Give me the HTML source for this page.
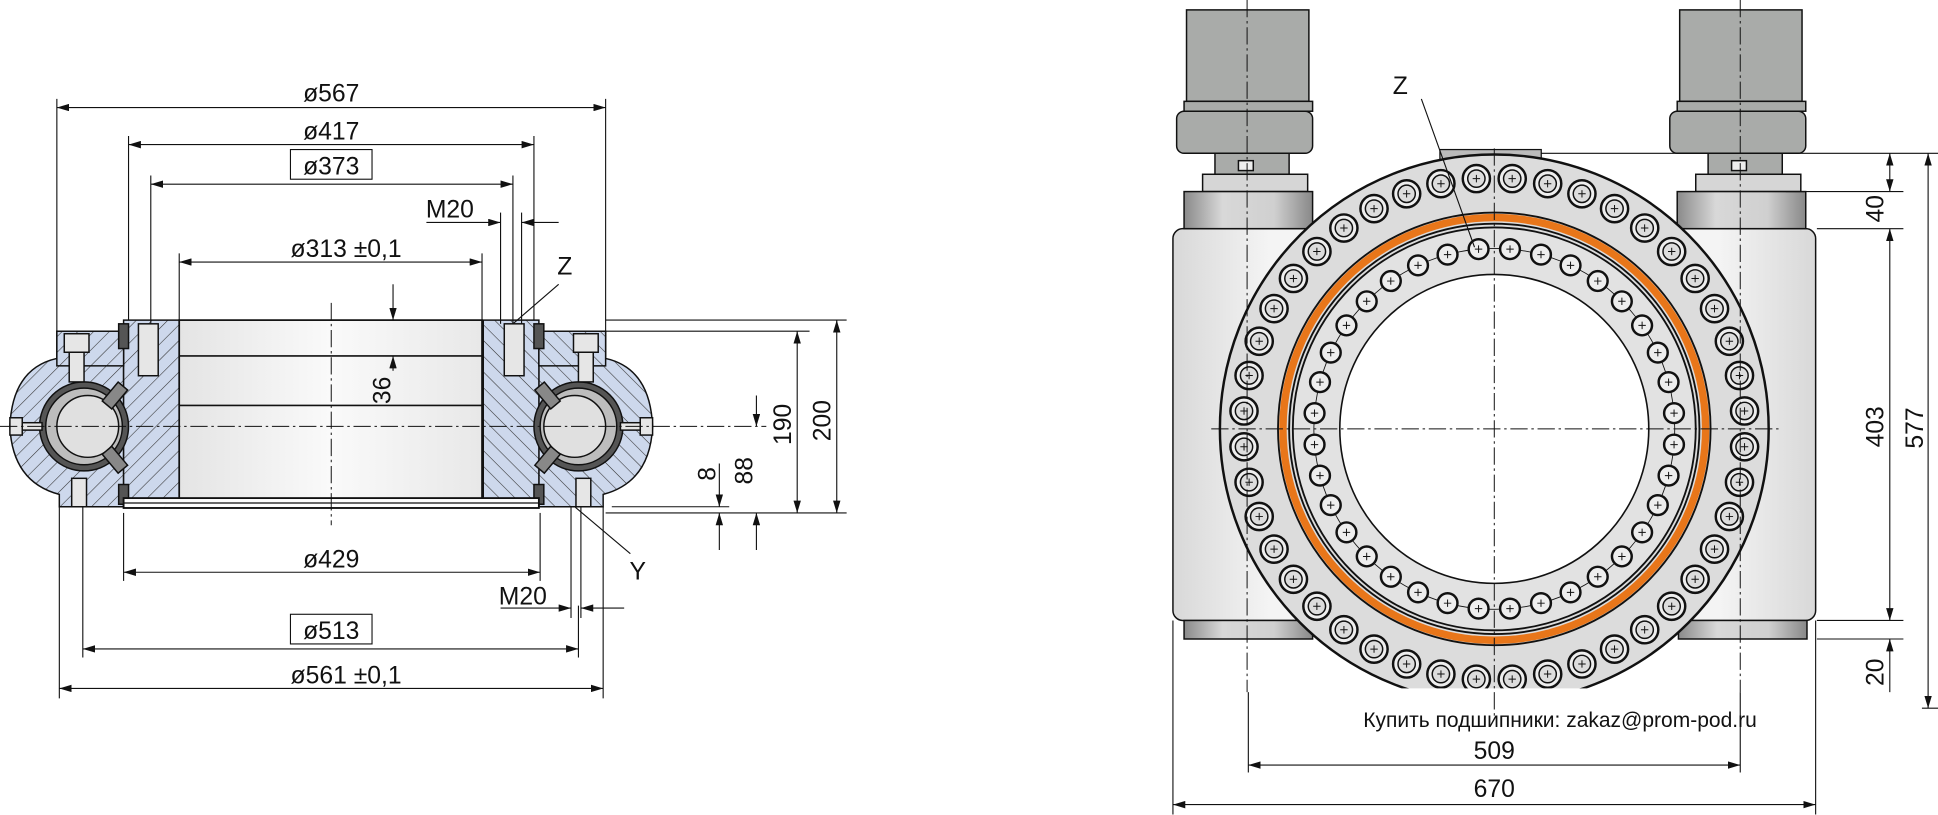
<!DOCTYPE html>
<html><head><meta charset="utf-8"><style>
html,body{margin:0;padding:0;background:#fff;}
svg{display:block;}
text{font-family:"Liberation Sans",sans-serif;font-size:20px;fill:#111;}
</style></head><body>
<svg id="s" width="1938" height="815" viewBox="0 0 1568 659.4" xmlns="http://www.w3.org/2000/svg">
<defs>
<pattern id="h" width="9" height="9" patternUnits="userSpaceOnUse" patternTransform="rotate(45)">
<rect width="9" height="9" fill="#cdd8ec"/><line x1="0" y1="0" x2="0" y2="9" stroke="#333" stroke-width="0.9"/></pattern>
<linearGradient id="bore" x1="0" x2="1"><stop offset="0" stop-color="#e4e4e4"/><stop offset="0.5" stop-color="#fafafa"/><stop offset="1" stop-color="#e8e8e8"/></linearGradient>
<linearGradient id="cyl" x1="0" x2="1"><stop offset="0" stop-color="#8a8a8a"/><stop offset="0.3" stop-color="#d8d8d8"/><stop offset="0.7" stop-color="#d0d0d0"/><stop offset="1" stop-color="#888"/></linearGradient>
<linearGradient id="hous" x1="0" x2="1"><stop offset="0" stop-color="#d8d8d8"/><stop offset="0.15" stop-color="#f4f4f4"/><stop offset="0.85" stop-color="#f4f4f4"/><stop offset="1" stop-color="#d8d8d8"/></linearGradient>
<marker id="a" viewBox="0 0 10 6" refX="10" refY="3" markerWidth="10" markerHeight="6" orient="auto-start-reverse" markerUnits="userSpaceOnUse"><path d="M0,0 L10,3 L0,6Z" fill="#111"/></marker>
<clipPath id="ringclip"><rect x="900" y="0" width="600" height="557"/></clipPath>
</defs>

<!-- LEFT CROSS SECTION -->
<g id="half" stroke="#111" stroke-width="1.2">
 <path d="M46,290 L46,268 H100 V410 H48 V400 Q10,390 8,345 Q10,298 46,290Z" fill="url(#h)"/>
 <rect x="100" y="259" width="45" height="151" fill="url(#h)"/>
 <rect x="46" y="268" width="54" height="28" fill="url(#h)"/>
 <circle cx="68" cy="345" r="36" fill="#555"/>
 <circle cx="68" cy="345" r="31" fill="#bdbdbd"/>
 <circle cx="71" cy="345" r="25" fill="#e0e0e0"/>
 <rect x="52" y="270" width="20" height="15" fill="#e6e6e6"/>
 <rect x="56" y="285" width="12" height="24" fill="#e6e6e6"/>
 <rect x="112" y="262" width="16" height="42" fill="#e6e6e6"/>
 <rect x="58" y="387" width="12" height="23" fill="#e6e6e6"/>
 <rect x="8" y="338" width="10" height="14" fill="#e6e6e6"/>
 <rect x="18" y="342" width="16" height="6" fill="#e6e6e6"/>
 <rect x="88" y="310" width="10" height="20" fill="#888" transform="rotate(40 93 320)"/>
 <rect x="88" y="362" width="10" height="20" fill="#888" transform="rotate(-40 93 372)"/>
 <rect x="96" y="262" width="8" height="20" fill="#555"/>
 <rect x="96" y="392" width="8" height="16" fill="#555"/>
</g>
<use href="#half" transform="translate(536,0) scale(-1,1)"/>
<rect x="145" y="259" width="245" height="146" fill="url(#bore)" stroke="#111" stroke-width="1.4"/>
<line x1="145" y1="288" x2="390" y2="288" stroke="#111" stroke-width="1.3"/>
<line x1="145" y1="328" x2="390" y2="328" stroke="#111" stroke-width="1.3"/>
<rect x="100" y="403" width="336" height="8" fill="#fff" stroke="#111" stroke-width="1.5"/>
<line x1="100" y1="407" x2="436" y2="407" stroke="#111"/>
<g stroke="#111" stroke-width="0.8" stroke-dasharray="14,3,2,3">
<line x1="268" y1="245" x2="268" y2="425"/>
<line x1="0" y1="345" x2="620" y2="345"/>
</g>
<g stroke="#111" stroke-width="0.9" fill="none">
<line x1="46" y1="80" x2="46" y2="268"/><line x1="490" y1="80" x2="490" y2="268"/>
<line x1="46" y1="87" x2="490" y2="87" marker-start="url(#a)" marker-end="url(#a)"/>
<line x1="104" y1="110" x2="104" y2="259"/><line x1="432" y1="110" x2="432" y2="259"/>
<line x1="104" y1="117" x2="432" y2="117" marker-start="url(#a)" marker-end="url(#a)"/>
<line x1="122" y1="142" x2="122" y2="262"/><line x1="415" y1="142" x2="415" y2="262"/>
<line x1="122" y1="149" x2="415" y2="149" marker-start="url(#a)" marker-end="url(#a)"/>
<line x1="145" y1="205" x2="145" y2="259"/><line x1="390" y1="205" x2="390" y2="259"/>
<line x1="145" y1="212" x2="390" y2="212" marker-start="url(#a)" marker-end="url(#a)"/>
<line x1="405" y1="172" x2="405" y2="262"/><line x1="422" y1="172" x2="422" y2="262"/>
<line x1="345" y1="180" x2="405" y2="180" marker-end="url(#a)"/><line x1="452" y1="180" x2="422" y2="180" marker-end="url(#a)"/>
<line x1="318" y1="230" x2="318" y2="259" marker-end="url(#a)"/><line x1="318" y1="300" x2="318" y2="288" marker-end="url(#a)"/>
<line x1="452" y1="230" x2="415" y2="262"/>
<line x1="490" y1="259" x2="685" y2="259"/><line x1="490" y1="268" x2="655" y2="268"/>
<line x1="490" y1="415" x2="685" y2="415"/><line x1="495" y1="410" x2="590" y2="410"/>
<line x1="677" y1="259" x2="677" y2="415" marker-start="url(#a)" marker-end="url(#a)"/>
<line x1="645" y1="268" x2="645" y2="415" marker-start="url(#a)" marker-end="url(#a)"/>
<line x1="612" y1="320" x2="612" y2="345" marker-end="url(#a)"/><line x1="612" y1="445" x2="612" y2="415" marker-end="url(#a)"/>
<line x1="582" y1="375" x2="582" y2="410" marker-end="url(#a)"/><line x1="582" y1="445" x2="582" y2="415" marker-end="url(#a)"/>
<line x1="100" y1="415" x2="100" y2="470"/><line x1="437" y1="415" x2="437" y2="470"/>
<line x1="100" y1="463" x2="437" y2="463" marker-start="url(#a)" marker-end="url(#a)"/>
<line x1="462" y1="410" x2="462" y2="500"/><line x1="470" y1="410" x2="470" y2="500"/>
<line x1="405" y1="492" x2="462" y2="492" marker-end="url(#a)"/><line x1="505" y1="492" x2="470" y2="492" marker-end="url(#a)"/>
<line x1="465" y1="410" x2="510" y2="448"/>
<line x1="67" y1="410" x2="67" y2="532"/><line x1="468" y1="490" x2="468" y2="532"/>
<line x1="67" y1="525" x2="468" y2="525" marker-start="url(#a)" marker-end="url(#a)"/>
<line x1="48" y1="410" x2="48" y2="565"/><line x1="488" y1="410" x2="488" y2="565"/>
<line x1="48" y1="557" x2="488" y2="557" marker-start="url(#a)" marker-end="url(#a)"/>
<rect x="235" y="121" width="66" height="24"/><rect x="235" y="497" width="66" height="24"/>
</g>
<text x="268" y="82" text-anchor="middle">ø567</text>
<text x="268" y="113" text-anchor="middle">ø417</text>
<text x="268" y="141" text-anchor="middle">ø373</text>
<text x="364" y="176" text-anchor="middle">M20</text>
<text x="280" y="208" text-anchor="middle">ø313  ±0,1</text>
<text x="457" y="222" text-anchor="middle">Z</text>
<text x="0" y="0" transform="translate(316,327) rotate(-90)">36</text>
<text x="0" y="0" transform="translate(672,357) rotate(-90)">200</text>
<text x="0" y="0" transform="translate(640,360) rotate(-90)">190</text>
<text x="0" y="0" transform="translate(609,392) rotate(-90)">88</text>
<text x="0" y="0" transform="translate(579,389) rotate(-90)">8</text>
<text x="268" y="459" text-anchor="middle">ø429</text>
<text x="423" y="489" text-anchor="middle">M20</text>
<text x="516" y="469" text-anchor="middle">Y</text>
<text x="268" y="517" text-anchor="middle">ø513</text>
<text x="280" y="553" text-anchor="middle">ø561   ±0,1</text>

<!-- RIGHT VIEW -->
<g stroke="#111" stroke-width="1.2">
 <rect x="949" y="185" width="520" height="317" rx="8" fill="url(#hous)"/>
 <rect x="958" y="502" width="104" height="15" fill="url(#cyl)"/>
 <rect x="1358" y="502" width="104" height="15" fill="url(#cyl)"/>
 <g id="motor">
  <rect x="960" y="8" width="99" height="74" fill="#a9aba9"/>
  <rect x="958" y="82" width="104" height="8" fill="#a9aba9"/>
  <rect x="952" y="90" width="110" height="34" rx="6" fill="#a9aba9"/>
  <rect x="983" y="124" width="60" height="17" fill="#a9aba9"/>
  <rect x="1002" y="130" width="12" height="8" fill="#eee"/>
  <rect x="973" y="141" width="85" height="14" fill="#d6d6d6"/>
  <rect x="958" y="155" width="104" height="30" fill="url(#cyl)"/>
 </g>
 <use href="#motor" transform="translate(399,0)"/>
</g>
<g clip-path="url(#ringclip)">
 <rect x="1165" y="121" width="82" height="8" fill="#bbb" stroke="#111"/>
 <circle cx="1209" cy="347" r="222" fill="#dcdcdc" stroke="#111" stroke-width="2"/>
 <circle cx="1209" cy="347" r="171" fill="none" stroke="#e8761a" stroke-width="6"/>
 <circle cx="1209" cy="347" r="166" fill="none" stroke="#111" stroke-width="1.5"/>
 <circle cx="1209" cy="347" r="175" fill="none" stroke="#111" stroke-width="1.5"/>
 <circle cx="1209" cy="347" r="163" fill="#e2e2e2" stroke="#111" stroke-width="1.5"/>
 <circle cx="1209" cy="347" r="146" fill="none" stroke="#111" stroke-width="0.7"/>
 <circle cx="1209" cy="347" r="125" fill="#fff" stroke="#111" stroke-width="1.3"/>
 <g id="bolts"></g>
</g>
<g stroke="#111" stroke-width="0.8" stroke-dasharray="14,3,2,3">
<line x1="1009" y1="0" x2="1009" y2="560"/><line x1="1408" y1="0" x2="1408" y2="560"/>
<line x1="1209" y1="120" x2="1209" y2="580"/><line x1="980" y1="347" x2="1440" y2="347"/>
</g>
<g stroke="#111" stroke-width="0.9" fill="none">
<line x1="1150" y1="80" x2="1193" y2="200"/>
<line x1="1247" y1="124" x2="1568" y2="124"/><line x1="1445" y1="155" x2="1540" y2="155"/>
<line x1="1470" y1="185" x2="1540" y2="185"/><line x1="1470" y1="502" x2="1540" y2="502"/>
<line x1="1470" y1="517" x2="1540" y2="517"/><line x1="1555" y1="573" x2="1568" y2="573"/>
<line x1="1529" y1="124" x2="1529" y2="155" marker-start="url(#a)" marker-end="url(#a)"/>
<line x1="1529" y1="185" x2="1529" y2="502" marker-start="url(#a)" marker-end="url(#a)"/>
<line x1="1529" y1="560" x2="1529" y2="517" marker-end="url(#a)"/>
<line x1="1560" y1="124" x2="1560" y2="573" marker-start="url(#a)" marker-end="url(#a)"/>
<line x1="1010" y1="560" x2="1010" y2="625"/><line x1="1408" y1="560" x2="1408" y2="625"/>
<line x1="1010" y1="619" x2="1408" y2="619" marker-start="url(#a)" marker-end="url(#a)"/>
<line x1="949" y1="502" x2="949" y2="659"/><line x1="1469" y1="502" x2="1469" y2="659"/>
<line x1="949" y1="651" x2="1469" y2="651" marker-start="url(#a)" marker-end="url(#a)"/>
</g>
<text x="1133" y="76" text-anchor="middle">Z</text>
<text x="0" y="0" transform="translate(1524,180) rotate(-90)">40</text>
<text x="0" y="0" transform="translate(1524,362) rotate(-90)">403</text>
<text x="0" y="0" transform="translate(1556,363) rotate(-90)">577</text>
<text x="0" y="0" transform="translate(1524,555) rotate(-90)">20</text>
<text x="1103" y="588" style="font-size:17px">Купить подшипники: zakaz@prom-pod.ru</text>
<text x="1209" y="614" text-anchor="middle">509</text>
<text x="1209" y="645" text-anchor="middle">670</text>
</svg>
<script>
var g=document.getElementById('bolts'),h='';
function ring(n,r,r1,r2,off){for(var i=0;i<n;i++){var a=(i+off)/n*2*Math.PI,x=1209+r*Math.cos(a),y=347+r*Math.sin(a);
h+='<circle cx="'+x.toFixed(1)+'" cy="'+y.toFixed(1)+'" r="'+r1+'" fill="#eee" stroke="#111" stroke-width="2"/>';
if(r2)h+='<circle cx="'+x.toFixed(1)+'" cy="'+y.toFixed(1)+'" r="'+r2+'" fill="#ddd" stroke="#111" stroke-width="1.2"/>';
h+='<path d="M'+(x-3)+','+y+'h6M'+x+','+(y-3)+'v6" stroke="#111" stroke-width="0.8"/>';}}
ring(44,203,11,7,0.5);ring(36,146,8,0,0.5);
g.innerHTML=h;
</script>
</body></html>
